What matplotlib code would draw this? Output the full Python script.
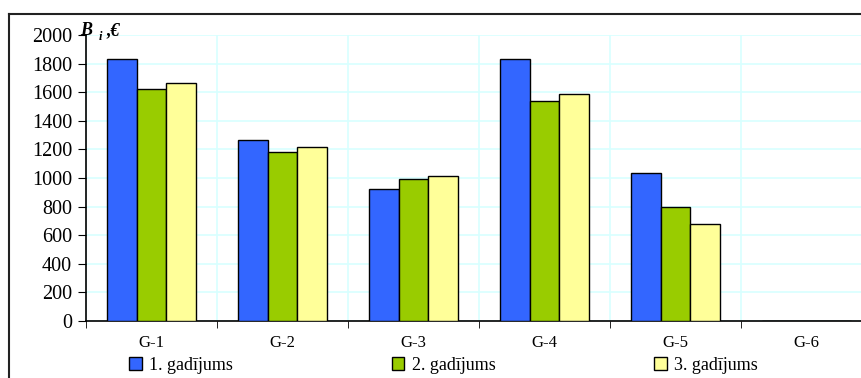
import numpy as np
import matplotlib.pyplot as plt
from matplotlib.lines import Line2D

plt.rcParams['font.family'] = ['Liberation Serif', 'DejaVu Serif']

groups = ["G-1", "G-2", "G-3", "G-4", "G-5", "G-6"]
series_names = ["1. gadījums", "2. gadījums", "3. gadījums"]
case1 = [1830, 1265, 920, 1830, 1035, 0]
case2 = [1620, 1182, 993, 1537, 800, 0]
case3 = [1665, 1218, 1017, 1590, 680, 0]
colors = ["#3366FF", "#99CC00", "#FFFF99"]

fig = plt.figure(figsize=(8.61, 3.78), dpi=100)
ax = fig.add_axes([0.0999, 0.1508, 0.9129, 0.7566])

x = np.arange(len(groups))
w = 0.225
for i, vals in enumerate([case1, case2, case3]):
    ax.bar(x + (i - 1) * w, vals, w, color=colors[i], edgecolor="black",
           linewidth=1.0, label=series_names[i], zorder=3)

ax.set_xlim(-0.5, len(groups) - 0.5)
ax.set_ylim(0, 2000)
ax.set_yticks(np.arange(0, 2001, 200))
ax.set_xticks(x)
ax.set_xticklabels(groups, fontsize=12)
ax.set_xticks(np.arange(-0.5, len(groups)), minor=True)
ax.tick_params(axis="x", which="major", length=0, pad=10)
ax.tick_params(axis="x", which="minor", length=5, direction="out", color="black")
ax.tick_params(axis="y", length=6, direction="out", labelsize=14.5, pad=4)
ax.grid(axis="y", color="#d8ffff", linewidth=1.2, zorder=0)
ax.grid(axis="x", which="minor", color="#d8ffff", linewidth=1.2, zorder=0)
for s in ["top", "right"]:
    ax.spines[s].set_visible(False)
for s in ["left", "bottom"]:
    ax.spines[s].set_linewidth(1.2)

# axis caption B_i, €
fig.text(0.093, 0.907, "B", fontsize=13, fontweight="bold", fontstyle="italic")
fig.text(0.115, 0.895, "i", fontsize=9, fontweight="bold", fontstyle="italic")
fig.text(0.123, 0.907, ",€", fontsize=13, fontweight="bold", fontstyle="italic")

# outer frame: top and left edges
fig.add_artist(Line2D([0.0105, 1.0], [0.963, 0.963], transform=fig.transFigure,
                      color="#222222", linewidth=1.5))
fig.add_artist(Line2D([0.0105, 0.0105], [0.0, 0.963], transform=fig.transFigure,
                      color="#222222", linewidth=1.5))

handles, labels = ax.get_legend_handles_labels()
fig.legend(handles, labels, loc="lower left", bbox_to_anchor=(0.131, -0.032),
           ncol=3, frameon=False, fontsize=13, handlelength=0.7,
           handleheight=0.7, handletextpad=0.4, columnspacing=8.8)

fig.savefig("out.png", dpi=100)
